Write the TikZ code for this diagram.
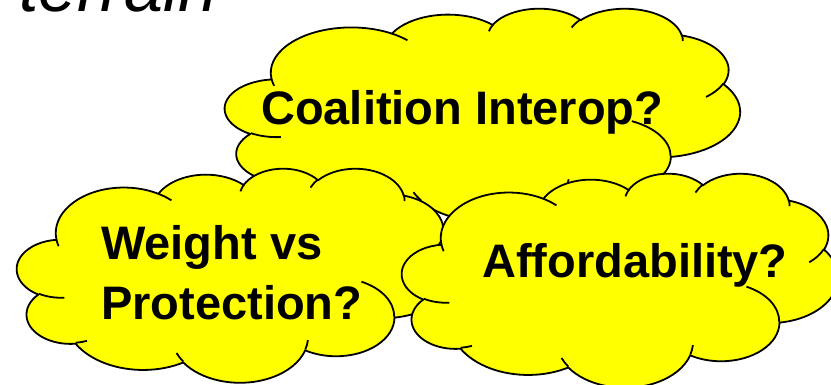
\documentclass[tikz,border=0pt]{standalone}
\usepackage{fontspec}
\setmainfont{Liberation Sans}
\definecolor{cloudfill}{RGB}{255,255,0}
\newcommand\ooarc[4]{%
  \pgfmathsetmacro\oaA{atan2((#1)*sin(#3),(#2)*cos(#3))}%
  \pgfmathsetmacro\oaB{atan2((#1)*sin((#3)+(#4)),(#2)*cos((#3)+(#4)))}%
  \pgfmathsetmacro\oaB{\oaB+360*(\oaB<\oaA)}%
  \pgfpatharc{\oaA}{\oaB}{#1pt and #2pt}%
}
\newcommand\oomove[2]{\pgfpathmoveto{\pgfpoint{#1pt}{#2pt}}}
\newcommand\oocloud[4]{%
  \begin{pgfscope}
    \pgfmathsetmacro\ooty{385-#2}%
    \pgfmathsetmacro\oosx{#3/43.2}%
    \pgfmathsetmacro\oosy{-#4/43.2}%
    \pgftransformshift{\pgfpoint{#1pt}{\ooty pt}}%
    \pgftransformxscale{\oosx}%
    \pgftransformyscale{\oosy}%
    \pgfsetlinewidth{1.8pt}%
    \pgfsetroundjoin
    \pgfsetfillcolor{cloudfill}%
    \pgfsetstrokecolor{black}%
    \oomove{3.9}{14.37}%
    \ooarc{6.753}{9.190}{-190.4875}{123.7805}%
    \ooarc{5.333}{7.267}{-144.1024}{89.9452}%
    \ooarc{4.365}{5.945}{-145.8079}{99.7230}%
    \ooarc{4.857}{6.595}{-130.9861}{117.2417}%
    \ooarc{5.333}{7.273}{-78.7089}{109.0269}%
    \ooarc{6.775}{9.220}{-46.2673}{130.2690}%
    \ooarc{5.785}{7.867}{0.6250}{114.0333}%
    \ooarc{6.752}{9.215}{22.4516}{115.1726}%
    \ooarc{7.720}{10.543}{66.2426}{75.7110}%
    \ooarc{4.360}{5.918}{-274.9421}{146.7356}%
    \ooarc{4.345}{5.945}{-246.8285}{152.5189}%
    \pgfpathclose
    \pgfusepath{fill,stroke}%
    \oomove{4.693}{26.177}\ooarc{4.345}{5.945}{86.7420}{26.4295}%
    \oomove{6.928}{34.899}\ooarc{4.360}{5.918}{73.6105}{11.4475}%
    \oomove{16.478}{39.090}\ooarc{6.752}{9.215}{137.6242}{14.0811}%
    \oomove{28.827}{34.751}\ooarc{6.752}{9.215}{6.4533}{15.9984}%
    \oomove{34.129}{22.954}\ooarc{5.785}{7.867}{-70.2924}{70.9174}%
    \oomove{41.798}{15.354}\ooarc{5.333}{7.273}{30.3180}{27.7515}%
    \oomove{38.324}{5.426}\ooarc{4.857}{6.595}{-13.7443}{14.8589}%
    \oomove{29.078}{3.952}\ooarc{4.857}{6.595}{-149.1815}{18.1954}%
    \oomove{22.141}{4.720}\ooarc{4.365}{5.945}{-163.4943}{17.6864}%
    \oomove{14.000}{5.192}\ooarc{6.753}{9.190}{-66.7070}{12.3194}%
    \oomove{4.127}{15.789}\ooarc{6.753}{9.190}{157.6544}{11.8582}%
    \pgfusepath{stroke}%
  \end{pgfscope}%
}
\tikzset{
  cloudtext/.style={inner sep=0pt, anchor=base west, text=black,
    font=\fontsize{47pt}{56pt}\selectfont\bfseries},
  titletext/.style={inner sep=0pt, anchor=base west, text=black,
    font=\fontsize{70pt}{84pt}\selectfont\itshape}
}
\begin{document}
\begin{tikzpicture}[x=1pt,y=1pt]
  \useasboundingbox (0,0) rectangle (831,385);
  \clip (0,0) rectangle (831,385);
  \node[titletext] (terrain) at (19,373) {terrain};
  % Coalition cloud (behind)
  \oocloud{225}{8}{515}{213}
  \node[cloudtext] (coalition) at (261,260) {Coalition Interop?};
  % Weight cloud
  \oocloud{17}{168}{436}{214}
  \node[cloudtext] (weight) at (101,125)
    {\vtop{\baselineskip=60pt\hbox{Weight vs}\hbox{Protection?}}};
  % Affordability cloud (front)
  \oocloud{402}{173}{436}{214}
  \node[cloudtext] (afford) at (482,107) {Affordability?};
\end{tikzpicture}
\end{document}
